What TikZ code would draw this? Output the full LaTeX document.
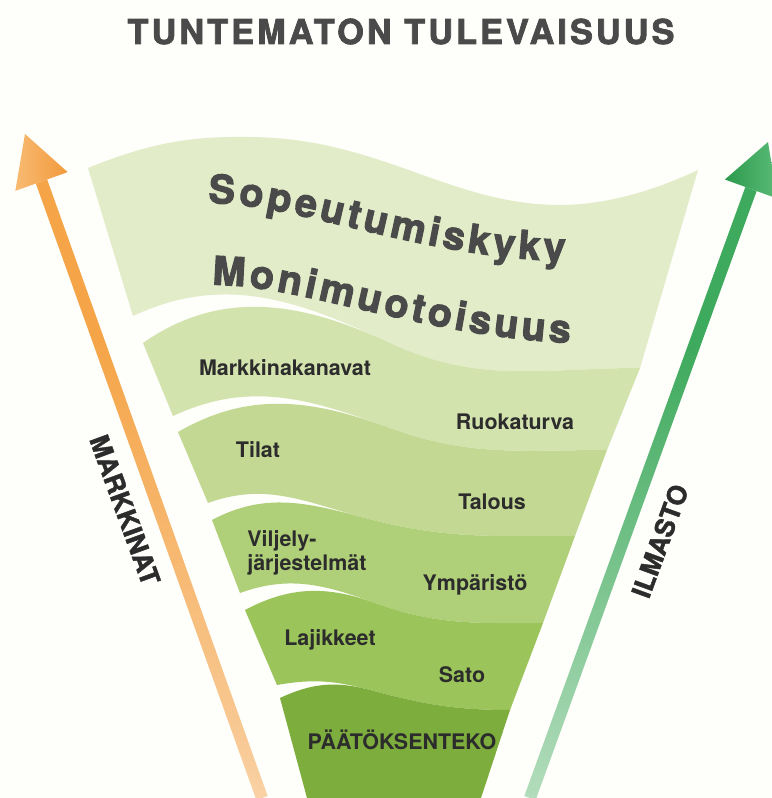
\documentclass[tikz,border=0pt]{standalone}
\usepackage{fontspec}
\setmainfont{TeX Gyre Heros}
\newfontfamily\heavyfont{TeX Gyre Heros}[BoldFeatures={FakeBold=1.6}]
\newfontfamily\wordfont{TeX Gyre Heros}[BoldFeatures={FakeBold=2.6}]
\newfontfamily\titlefont{TeX Gyre Heros}[LetterSpace=9,BoldFeatures={FakeBold=2.2}]
\usetikzlibrary{calc,decorations.text}

\definecolor{paper}{HTML}{FEFEFA}
\definecolor{ink}{HTML}{2C2C2C}
\definecolor{inkgray}{HTML}{4A4A4A}
\definecolor{bandA}{HTML}{E2ECC8}
\definecolor{bandB}{HTML}{D3E3AE}
\definecolor{bandC}{HTML}{C3D993}
\definecolor{bandD}{HTML}{AFCF78}
\definecolor{bandE}{HTML}{9BC45A}
\definecolor{bandF}{HTML}{7DAD3C}
\definecolor{markorange}{HTML}{F5A548}
\definecolor{markmid}{HTML}{F8C994}
\definecolor{markheadlt}{HTML}{F8BA72}
\definecolor{markheaddk}{HTML}{F29A3C}
\definecolor{ilmagreen}{HTML}{3EAA5D}
\definecolor{ilmamid}{HTML}{A4D6B0}
\definecolor{ilmaheadlt}{HTML}{5BBB77}
\definecolor{ilmaheaddk}{HTML}{2B9A4C}

% fading shafts of the two side arrows
\pgfdeclareverticalshading{markfade}{100bp}{color(0bp)=(paper); color(30bp)=(markmid); color(62bp)=(markorange); color(100bp)=(markorange)}
\pgfdeclareverticalshading{ilmafade}{100bp}{color(0bp)=(paper); color(30bp)=(ilmamid); color(62bp)=(ilmagreen); color(100bp)=(ilmagreen)}

\begin{document}
\begin{tikzpicture}[x=0.02cm,y=0.02cm,
    lbl/.style={font=\bfseries\fontsize{12.2}{14}\selectfont,text=ink,inner sep=0pt},
    side/.style={font=\heavyfont\bfseries\fontsize{15}{16}\selectfont,text=ink,inner sep=0pt},
    bigword/.style={decorate,decoration={text along path,text align={fit to path},
        text color=inkgray,text={|\wordfont\bfseries\fontsize{22.5}{26}\selectfont|#1}}}]

\fill[paper] (0,0) rectangle (771,798);
\useasboundingbox (0,0) rectangle (771,798);

% corners and seams of the funnel
\coordinate (tl) at (88,630);  \coordinate (tr) at (698,628);
\coordinate (lo1) at (133,482); \coordinate (hi1) at (143,455); \coordinate (mid1) at (390,455); \coordinate (rt1) at (640,430);
\coordinate (lo2) at (173,382); \coordinate (hi2) at (178,366); \coordinate (mid2) at (390,370); \coordinate (rt2) at (607,348);
\coordinate (lo3) at (208,295); \coordinate (hi3) at (212,278); \coordinate (mid3) at (365,280); \coordinate (rt3) at (575,262);
\coordinate (lo4) at (240,205); \coordinate (hi4) at (245,188); \coordinate (mid4) at (375,195); \coordinate (rt4) at (543,175);
\coordinate (lo5) at (277,113); \coordinate (hi5) at (280,100); \coordinate (mid5) at (370,108); \coordinate (rt5) at (510,88);
\coordinate (bl) at (307,0);   \coordinate (br) at (481,0);

% bands, top to bottom
\fill[bandA] (tl) .. controls (150,655) and (190,662) .. (250,661)
    .. controls (380,660) and (450,593) .. (560,593) .. controls (610,593) and (660,610) .. (tr)
    -- (rt1) to[out=180,in=-25] (mid1) to[out=155,in=25] (lo1) -- cycle;
\fill[bandB] (hi1) to[out=35,in=155] (mid1) to[out=-25,in=180] (rt1)
    -- (rt2) to[out=180,in=-20] (mid2) to[out=160,in=25] (lo2) -- cycle;
\fill[bandC] (hi2) to[out=30,in=160] (mid2) to[out=-20,in=180] (rt2)
    -- (rt3) to[out=180,in=-15] (mid3) to[out=165,in=20] (lo3) -- cycle;
\fill[bandD] (hi3) to[out=28,in=165] (mid3) to[out=-15,in=180] (rt3)
    -- (rt4) to[out=180,in=-20] (mid4) to[out=160,in=20] (lo4) -- cycle;
\fill[bandE] (hi4) to[out=28,in=160] (mid4) to[out=-20,in=180] (rt4)
    -- (rt5) to[out=180,in=-15] (mid5) to[out=165,in=10] (lo5) -- cycle;
\fill[bandF] (hi5) to[out=25,in=165] (mid5) to[out=-15,in=180] (rt5) -- (br) -- (bl) -- cycle;

% markets arrow (left)
\coordinate (mtip) at (25,664); \coordinate (mbase) at (41.5,616.5); \coordinate (mtail) at (262,0);
\shade[shading=markfade] ($(mbase)!0.12cm!90:(mtail)$) -- ($(mtail)!0.12cm!-90:(mbase)$)
    -- ($(mtail)!0.12cm!90:(mbase)$) -- ($(mbase)!0.12cm!-90:(mtail)$) -- cycle;
\shade[left color=markheadlt,right color=markheaddk] (mtip)
    -- ($(mbase)!0.556cm!90:(mtail)$) -- ($(mbase)!0.556cm!-90:(mtail)$) -- cycle;

% climate arrow (right)
\coordinate (itip) at (768,656); \coordinate (ibase) at (751,609); \coordinate (itail) at (530,0);
\shade[shading=ilmafade] ($(ibase)!0.12cm!90:(itail)$) -- ($(itail)!0.12cm!-90:(ibase)$)
    -- ($(itail)!0.12cm!90:(ibase)$) -- ($(ibase)!0.12cm!-90:(itail)$) -- cycle;
\shade[left color=ilmaheaddk,right color=ilmaheadlt] (itip)
    -- ($(ibase)!0.556cm!90:(itail)$) -- ($(ibase)!0.556cm!-90:(itail)$) -- cycle;

% heading and the two wavy words
\node[font=\titlefont\bfseries\fontsize{19.5}{22}\selectfont,text=inkgray,anchor=base] (otsikko) at (401,754) {TUNTEMATON TULEVAISUUS};
\path[bigword=Sopeutumiskyky] (208,595) .. controls (300,594) and (420,540) .. (565,537);
\path[bigword=Monimuotoisuus] (212,513) .. controls (300,514) and (420,462) .. (570,455);

% band labels
\node[lbl] (kanavat) at (285,430) {Markkinakanavat};
\node[lbl] (ruoka) at (515,376) {Ruokaturva};
\node[lbl] (tilat) at (258,348) {Tilat};
\node[lbl] (talous) at (492,296) {Talous};
\node[lbl,anchor=north west,align=left] (viljely) at (247,268) {Viljely-\\järjestelmät};
\node[lbl] (ymparisto) at (475,213) {Ympäristö};
\node[lbl] (lajikkeet) at (330,158) {Lajikkeet};
\node[lbl] (sato) at (462,123) {Sato};
\node[lbl] (paatos) at (402,58) {PÄÄTÖKSENTEKO};

% arrow captions
\node[side,rotate=-70] (markkinat) at (125,288) {MARKKINAT};
\node[side,rotate=70] (ilmasto) at (660,257) {ILMASTO};
\end{tikzpicture}
\end{document}
